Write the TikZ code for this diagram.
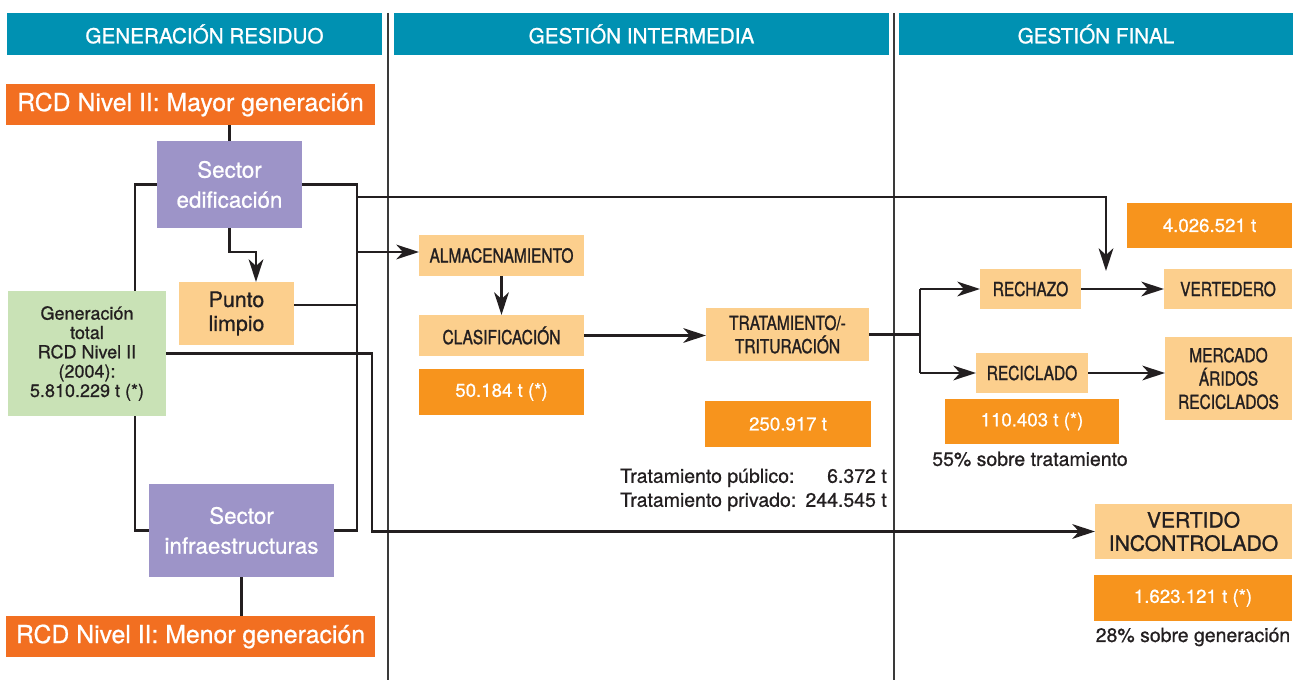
\documentclass[tikz,border=0pt]{standalone}
\usepackage{fontspec}
\setmainfont{TeX Gyre Heros}[FakeBold=0.8]
\newfontfamily\cnd{TeX Gyre Heros}[FakeStretch=0.8,FakeBold=1.2]
\usetikzlibrary{arrows.meta,calc}
\definecolor{hdrc}{HTML}{0091B2}
\definecolor{rcdc}{HTML}{F26F21}
\definecolor{numc}{HTML}{F7941D}
\definecolor{lightc}{HTML}{FCCF8D}
\definecolor{purc}{HTML}{9D94C8}
\definecolor{grnc}{HTML}{C9E2B6}
\definecolor{inkc}{HTML}{231F20}
\definecolor{sepc}{HTML}{3A3A3A}
\pgfdeclarelayer{bg}\pgfsetlayers{bg,main}
\newcommand\placebox[6]{\node[#1,minimum width={(#5-#3)*0.75pt},minimum height={(#6-#4)*0.75pt}] (#2) at ({(#3+#5)/2},{(#4+#6)/2})}
\tikzset{
  box/.style={inner sep=0pt, outer sep=0pt, align=center},
  hdr/.style={box, fill=hdrc, text=white, font=\addfontfeature{FakeBold=1}\fontsize{15.5}{17}\selectfont},
  rcd/.style={box, fill=rcdc, text=white, font=\fontsize{18.6}{21}\selectfont},
  sector/.style={box, fill=purc, text=white, font=\fontsize{16.8}{22.5}\selectfont},
  lbox/.style={box, fill=lightc, text=inkc, font=\cnd\fontsize{14.5}{17.5}\selectfont},
  pbox/.style={box, fill=lightc, text=inkc, font=\fontsize{16}{18}\selectfont},
  gbox/.style={box, fill=grnc, text=inkc, font=\fontsize{13.5}{14.5}\selectfont},
  nbox/.style={box, fill=numc, text=white, font=\fontsize{14}{17}\selectfont},
  vbox/.style={box, fill=lightc, text=inkc, font=\addfontfeature{FakeBold=1.2}\fontsize{15.8}{17.5}\selectfont},
  note/.style={inner sep=0pt, text=inkc, font=\fontsize{14.6}{18}\selectfont},
  conn/.style={line width=2pt, draw=inkc},
  arr/.style={conn, -{Stealth[length=17pt,width=11pt,inset=5pt]}},
  sep/.style={line width=1pt, draw=sepc},
}
\begin{document}
\begin{tikzpicture}[x=0.75pt,y=-0.75pt]
\useasboundingbox (0,0) rectangle (1293,680);
% headers
\placebox{hdr}{h1}{7}{13}{382}{55} {\hspace*{15pt}GENERACIÓN RESIDUO};
\placebox{hdr}{h2}{394}{13}{889}{55} {GESTIÓN INTERMEDIA};
\placebox{hdr}{h3}{899}{13}{1293}{55} {GESTIÓN FINAL};
% left column
\placebox{rcd}{mayor}{6}{84}{375}{125} {RCD Nivel II: Mayor generación};
\placebox{sector}{edif}{157}{141}{302}{228} {Sector\\edificación};
\placebox{pbox}{punto}{179}{282}{294}{345} {Punto\\limpio};
\placebox{gbox}{green}{8}{291}{166}{416} {Generación\\total\\RCD Nivel II\\(2004):\\5.810.229 t (*)};
\placebox{sector}{infra}{149}{484}{334}{577} {Sector\\infraestructuras};
\placebox{rcd}{menor}{6}{616}{375}{657} {RCD Nivel II: Menor generación};
% middle column
\placebox{lbox}{almac}{419}{235}{584}{276} {ALMACENAMIENTO};
\placebox{lbox}{clasif}{419}{315}{584}{356} {CLASIFICACIÓN};
\placebox{nbox}{n50}{419}{369}{584}{415} {50.184 t (*)};
\placebox{lbox}{trat}{706}{308}{869}{361} {TRATAMIENTO/-\\TRITURACIÓN};
\placebox{nbox}{n250}{705}{401}{871}{447} {250.917 t};
\node[note, anchor=east] (tnote) at (887,490) {\begin{tabular}{@{}l@{\hspace{7pt}}r@{}}Tratamiento público: & 6.372 t\\Tratamiento privado: & 244.545 t\end{tabular}};
% right column
\placebox{nbox}{n4m}{1127}{203}{1292}{248} {4.026.521 t};
\placebox{lbox}{rech}{980}{269}{1081}{309} {RECHAZO};
\placebox{lbox}{vert}{1164}{269}{1292}{309} {VERTEDERO};
\placebox{lbox}{recic}{976}{353}{1088}{393} {RECICLADO};
\placebox{lbox}{merc}{1165}{337}{1292}{420} {MERCADO\\ÁRIDOS\\RECICLADOS};
\placebox{nbox}{n110}{945}{399}{1119}{444} {110.403 t (*)};
\node[note] (n55) at (1030,459) {55\% sobre tratamiento};
\placebox{vbox}{vinc}{1095}{504}{1292}{559} {VERTIDO\\INCONTROLADO};
\placebox{nbox}{n1m}{1094}{575}{1292}{621} {1.623.121 t (*)};
\node[note] (n28) at (1193,637) {28\% sobre generación};
% helper coordinates
\coordinate (L) at (135,0);
\coordinate (R) at (357,0);
\coordinate (G) at (372,0);
\coordinate (pa) at (256,0);
\coordinate (S) at (920,0);
\coordinate (vtop) at (1106,197);
\coordinate (vtip) at (1106,271);
\coordinate (sepA) at (388,13);
\coordinate (sepB) at (388,680);
\coordinate (sepC) at (894,13);
\coordinate (sepD) at (894,680);
\begin{pgfonlayer}{bg}
\draw[sep] (sepA) -- (sepB);
\draw[sep] (sepC) -- (sepD);
\draw[conn] (edif.north) -- (edif.north |- mayor.south);
\draw[conn] (infra.south) -- (infra.south |- menor.north);
\draw[conn] (edif.west) -- (edif.west -| L) -- (infra.west -| L) -- (infra.west);
\draw[conn] (edif.east) -- (edif.east -| R) -- (infra.east -| R) -- (infra.east);
\draw[arr] (edif.south) -- (edif.south |- 0,252) -- (pa |- 0,252) -- (punto.north -| pa);
\draw[conn] (punto.east |- 0,305) -- (R |- 0,305);
\draw[arr] (R |- 0,252) -- (almac.west |- 0,252);
\draw[arr] (R |- vtop) -- (vtop) -- (vtip);
\draw[arr] (green.east) -- (green.east -| G) -- (vinc.west -| G) -- (vinc.west);
\draw[arr] (almac.south) -- (clasif.north);
\draw[arr] (clasif.east) -- (trat.west |- clasif.east);
\draw[conn] (trat.east) -- (trat.east -| S);
\draw[arr] (S |- rech.west) -- (rech.west);
\draw[arr] (S |- recic.west) -- (recic.west);
\draw[conn] (S |- rech.west) -- (S |- recic.west);
\draw[arr] (rech.east) -- (vert.west);
\draw[arr] (recic.east) -- (merc.west |- recic.east);
\end{pgfonlayer}
\end{tikzpicture}
\end{document}
